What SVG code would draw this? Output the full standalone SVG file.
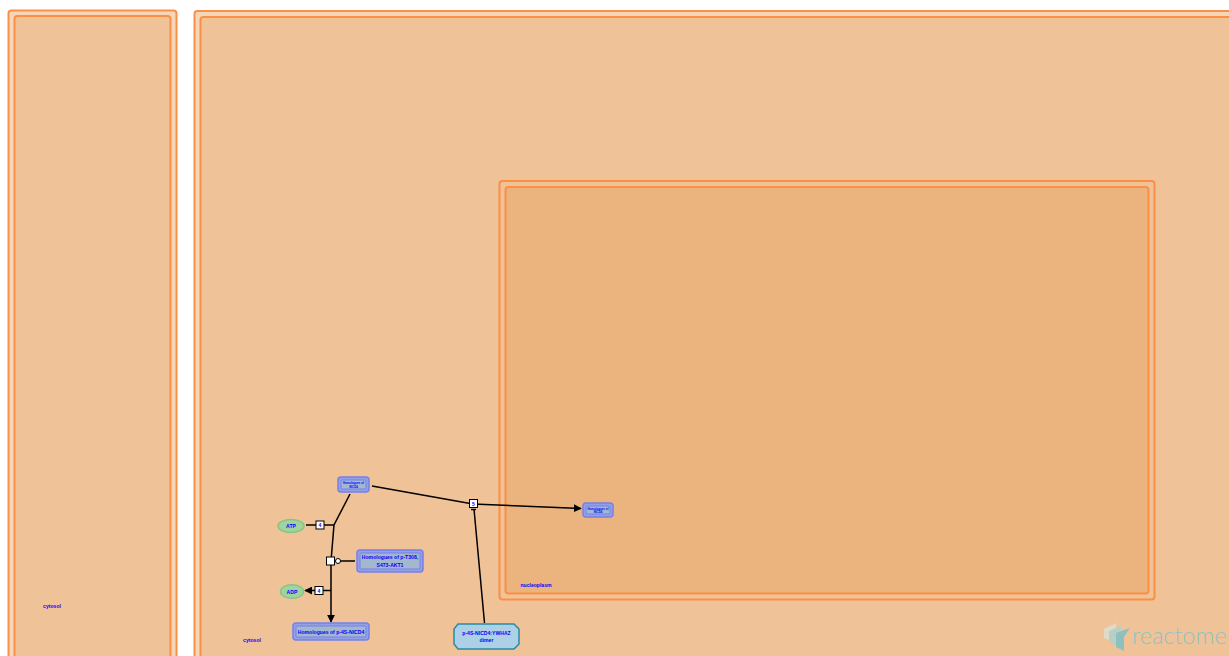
<svg xmlns="http://www.w3.org/2000/svg" width="1229" height="656" viewBox="0 0 1229 656">
<defs>
<style>
text{font-family:"Liberation Sans",Arial,sans-serif;font-weight:bold;fill:#0000ff;text-anchor:middle}
.comp{stroke:#fb8f45;stroke-width:2}
.outer{fill:#f6d6b8}
.mid{fill:#efc298}
.deep{fill:#ebb37d}
.c{fill:none;stroke:#000;stroke-width:1.5}
.cplx-o{fill:#939fe6;stroke:#7580ea;stroke-width:1.5}
.cplx-i{fill:#a3b8cd;stroke:#7580ea;stroke-width:1}
.chem{fill:#a1d49b;stroke:#87c587;stroke-width:1.5}
.step{fill:#fff;stroke:#000;stroke-width:1}
.lbl{font-size:5.100px}
.tiny{font-size:2.900px}
</style>
<marker id="arr" viewBox="0 0 10 10" refX="9" refY="5" markerWidth="8" markerHeight="8" markerUnits="userSpaceOnUse" orient="auto"><path d="M0 0L10 5L0 10Z" fill="#000"/></marker>
</defs>
<rect width="1229" height="656" fill="#fff"/>
<g id="compartments">
<rect class="comp outer" x="8.500" y="10.500" width="168" height="670" rx="3"/>
<rect class="comp mid" x="14.500" y="16" width="156" height="660" rx="3"/>
<rect class="comp outer" x="194.500" y="11" width="1060" height="670" rx="3"/>
<rect class="comp mid" x="200.500" y="17" width="1050" height="660" rx="3"/>
<rect class="comp mid" x="499.500" y="181" width="655" height="418.500" rx="3"/>
<rect class="comp deep" x="505.500" y="187" width="643" height="406.500" rx="3"/>
<text class="lbl" x="52" y="608">cytosol</text>
<text class="lbl" x="252" y="642">cytosol</text>
<text class="lbl" x="536" y="586.500">nucleoplasm</text>
</g>
<g id="connectors">
<path class="c" d="M350 494L334 525L331 561V622" marker-end="url(#arr)"/>
<path class="c" d="M306 525H334"/>
<path class="c" d="M331 590.500H305" marker-end="url(#arr)"/>
<path class="c" d="M338 561H355"/>
<path class="c" d="M372 486L473 504L581 508.500" marker-end="url(#arr)"/>
<path class="c" d="M484.500 623L474 509"/>
<path d="M471 509.500H476" stroke="#000" stroke-width="1.500"/>
</g>
<g id="step1"><rect class="step" x="316" y="521" width="8" height="8"/><text x="320" y="527" font-size="5">4</text></g>
<g id="step2"><rect class="step" x="315" y="586.500" width="8" height="8"/><text x="319" y="592.500" font-size="5">4</text></g>
<g id="step3"><rect class="step" x="326.500" y="557" width="8" height="8"/></g>
<g id="cat"><circle cx="338" cy="561" r="2.500" fill="#fff" stroke="#000"/></g>
<g id="step4"><rect class="step" x="469.500" y="499.500" width="8" height="8"/><text x="473.500" y="505.500" font-size="5">5</text></g>
<g id="atp"><ellipse class="chem" cx="291" cy="526" rx="13" ry="6.500"/><text class="lbl" x="291" y="528">ATP</text></g>
<g id="adp"><ellipse class="chem" cx="292" cy="591.500" rx="11.500" ry="6.800"/><text class="lbl" x="292" y="593.500">ADP</text></g>
<g id="nicd-cyt"><rect class="cplx-o" x="338" y="477" width="31" height="15" rx="3"/><rect class="cplx-i" x="341" y="480" width="25" height="9" rx="1"/><text class="tiny" x="353.500" y="484">Homologues of</text><text class="tiny" x="353.500" y="487.500">NICD4</text></g>
<g id="nicd-nuc"><rect class="cplx-o" x="583" y="503" width="30" height="14" rx="3"/><rect class="cplx-i" x="586" y="506" width="24" height="8" rx="1"/><text class="tiny" x="598" y="509.500">Homologues of</text><text class="tiny" x="598" y="513">NICD4</text></g>
<g id="akt"><rect class="cplx-o" x="357" y="550" width="66" height="22" rx="3"/><rect class="cplx-i" x="360" y="553" width="60" height="16" rx="1"/><text class="lbl" x="390" y="559">Homologues of p-T308,</text><text class="lbl" x="390" y="566.500">S473-AKT1</text></g>
<g id="p-nicd"><rect class="cplx-o" x="293" y="623" width="76" height="17" rx="3"/><rect class="cplx-i" x="296" y="626" width="70" height="11" rx="1"/><text class="lbl" x="331" y="633.500">Homologues of p-4S-NICD4</text></g>
<g id="dimer"><path d="M458 624H514L519 629V644L514 649H458L454 644V629Z" fill="#acd1e6" stroke="#2a8ba5" stroke-width="1.500"/><text class="lbl" x="486.500" y="635">p-4S-NICD4:YWHAZ</text><text class="lbl" x="486.500" y="642">dimer</text></g>
<g id="logo">
<path d="M1104 629L1116 623V643L1104 638Z" fill="#dedcc8"/>
<path d="M1109 631L1121 626V647L1109 642Z" fill="#b6d0c6"/>
<path d="M1116 633L1130 628L1124 637V651L1116 647Z" fill="#8fc0c0"/>
<text x="1132" y="644" font-size="23.500" style="font-family:'Lato','Liberation Sans',sans-serif;font-weight:300;fill:#8fc2c4;text-anchor:start">reactome</text>
</g>
</svg>
